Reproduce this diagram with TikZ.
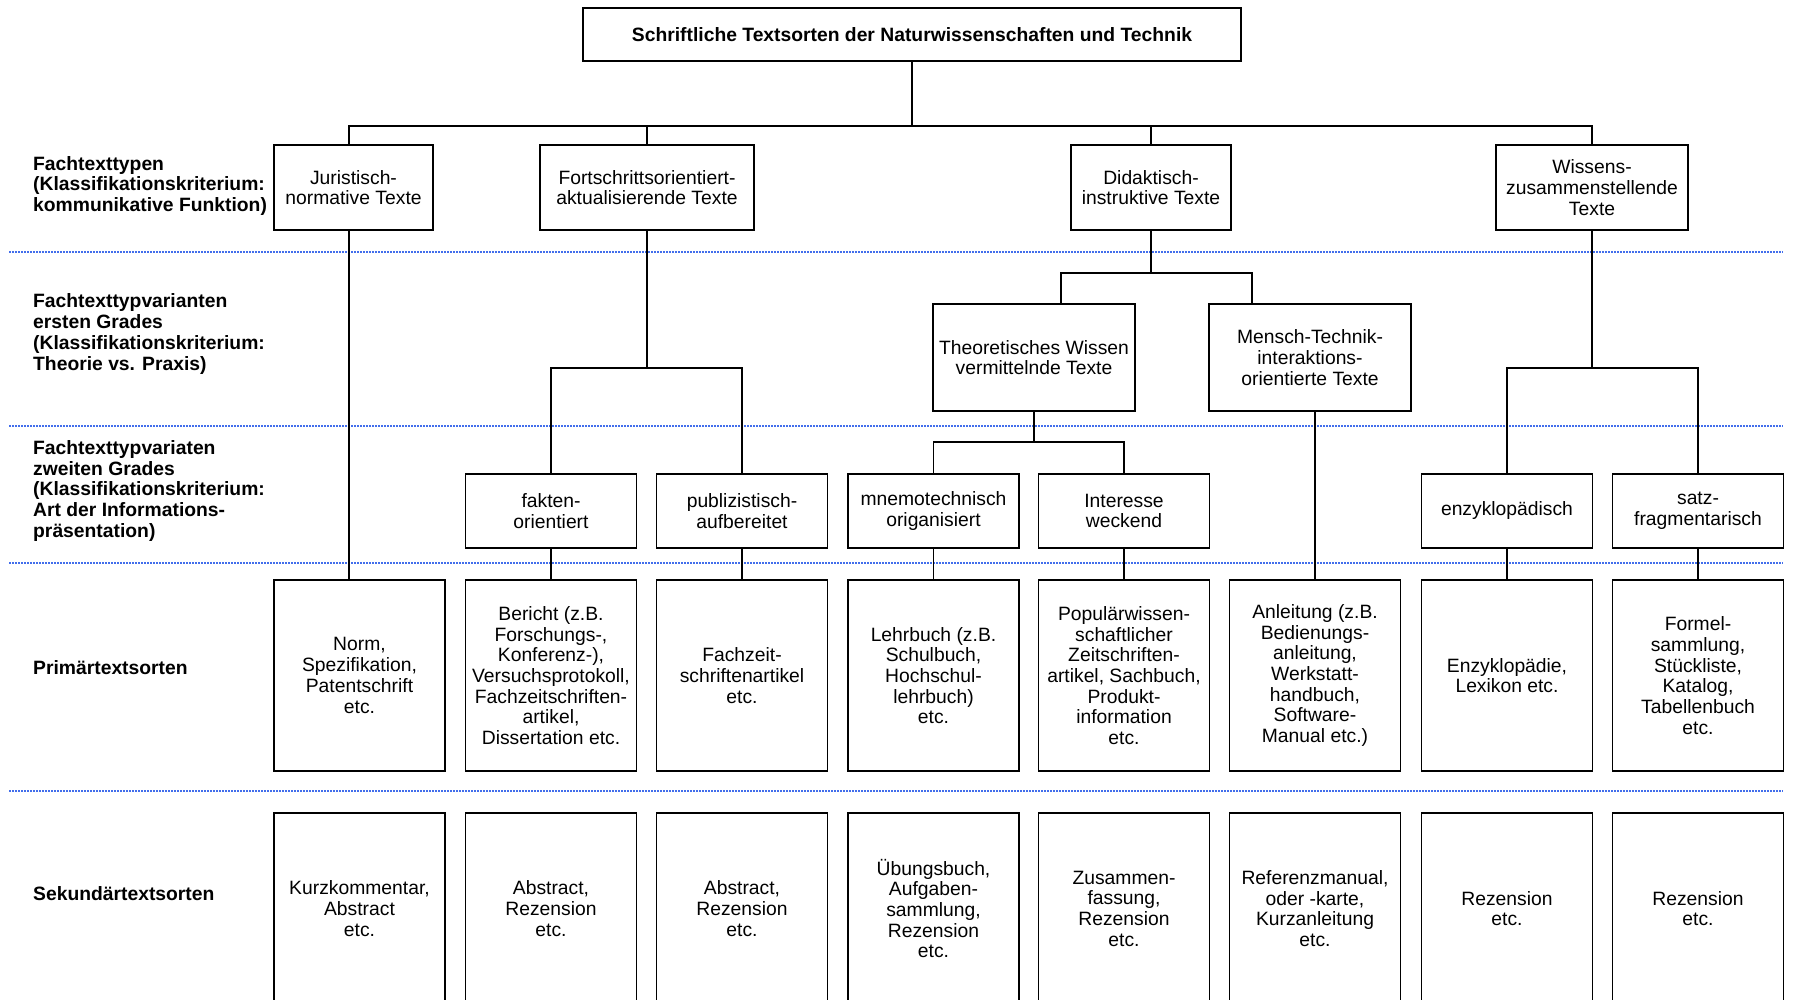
\documentclass[tikz,border=0pt]{standalone}
\usepackage{fontspec}
\setmainfont{Liberation Sans}
\usepackage{xcolor}
\usepackage{tikz}

\definecolor{rowblue}{RGB}{66,110,235}

\begin{document}
\begin{tikzpicture}[x=1pt, y=-1pt,
    box/.style={draw, line width=1.7pt, align=center, inner sep=1pt,
        font=\fontsize{19.3}{20.7}\selectfont},
    col/.style={box, minimum width=171pt},
    rowlabel/.style={anchor=west, align=left, inner sep=0pt,
        font=\fontsize{19.3}{20.7}\selectfont\bfseries},
    link/.style={line width=1.7pt},
    rowline/.style={rowblue, line width=1.5pt, dash pattern=on 2pt off 1pt}]

    % Page frame
    \clip (0,0) rectangle (1807,1000);
    \fill[white] (0,0) rectangle (1807,1000);

    % Row separators
    \draw[rowline] (9,252) -- (1783,252);
    \draw[rowline] (9,426) -- (1783,426);
    \draw[rowline] (9,563) -- (1783,563);
    \draw[rowline] (9,791) -- (1783,791);

    % Row labels
    \node[rowlabel] (lab1) at (33,186) {Fachtexttypen\\(Klassifikationskriterium:\\kommunikative Funktion)};
    \node[rowlabel] (lab2) at (33,334) {Fachtexttypvarianten\\ersten Grades\\(Klassifikationskriterium:\\Theorie vs. Praxis)};
    \node[rowlabel] (lab3) at (33,491) {Fachtexttypvariaten\\zweiten Grades\\(Klassifikationskriterium:\\Art der Informations-\\präsentation)};
    \node[rowlabel] (lab4) at (33,668) {Primärtextsorten};
    \node[rowlabel] (lab5) at (33,894) {Sekundärtextsorten};

    % Root
    \node[box, font=\fontsize{19.3}{20.7}\selectfont\bfseries, minimum width=658pt, minimum height=53pt] (root) at (912,34.5) {Schriftliche Textsorten der Naturwissenschaften und Technik};

    % Fachtexttypen
    \node[box, minimum width=159pt, minimum height=85pt] (jur) at (353.5,187.5) {Juristisch-\\normative Texte};
    \node[box, minimum width=214pt, minimum height=85pt] (fort) at (647,187.5) {Fortschrittsorientiert-\\aktualisierende Texte};
    \node[box, minimum width=160pt, minimum height=85pt] (did) at (1151,187.5) {Didaktisch-\\instruktive Texte};
    \node[box, minimum width=192pt, minimum height=85pt] (wis) at (1592,187.5) {Wissens-\\zusammenstellende\\Texte};

    % Varianten ersten Grades
    \node[box, minimum width=202pt, minimum height=107pt] (theo) at (1034,357.5) {Theoretisches Wissen\\vermittelnde Texte};
    \node[box, minimum width=202pt, minimum height=107pt] (mensch) at (1310,357.5) {Mensch-Technik-\\interaktions-\\orientierte Texte};

    % Varianten zweiten Grades
    \node[col, minimum height=74pt] (fakt) at (551,511) {fakten-\\orientiert};
    \node[col, minimum height=74pt] (publ) at (742,511) {publizistisch-\\aufbereitet};
    \node[col, minimum height=74pt] (mnem) at (933.5,511) {mnemotechnisch\\origanisiert};
    \node[col, minimum height=74pt] (inter) at (1124,511) {Interesse\\weckend};
    \node[col, minimum height=74pt] (enzy) at (1507,511) {enzyklopädisch};
    \node[col, minimum height=74pt] (satz) at (1698,511) {satz-\\fragmentarisch};

    % Primaertextsorten
    \node[col, minimum height=191pt] (p1) at (359.5,675.5) {Norm,\\Spezifikation,\\Patentschrift\\etc.};
    \node[col, minimum height=191pt] (p2) at (551,675.5) {Bericht (z.B.\\Forschungs-,\\Konferenz-),\\Versuchsprotokoll,\\Fachzeitschriften-\\artikel,\\Dissertation etc.};
    \node[col, minimum height=191pt] (p3) at (742,675.5) {Fachzeit-\\schriftenartikel\\etc.};
    \node[col, minimum height=191pt] (p4) at (933.5,675.5) {Lehrbuch (z.B.\\Schulbuch,\\Hochschul-\\lehrbuch)\\etc.};
    \node[col, minimum height=191pt] (p5) at (1124,675.5) {Populärwissen-\\schaftlicher\\Zeitschriften-\\artikel, Sachbuch,\\Produkt-\\information\\etc.};
    \node[col, minimum height=191pt] (p6) at (1315,675.5) {Anleitung (z.B.\\Bedienungs-\\anleitung,\\Werkstatt-\\handbuch,\\Software-\\Manual etc.)};
    \node[col, minimum height=191pt] (p7) at (1507,675.5) {Enzyklopädie,\\Lexikon etc.};
    \node[col, minimum height=191pt] (p8) at (1698,675.5) {Formel-\\sammlung,\\Stückliste,\\Katalog,\\Tabellenbuch\\etc.};

    % Sekundaertextsorten (run off the lower edge)
    \node[col, minimum height=191pt] (s1) at (359.5,908.5) {Kurzkommentar,\\Abstract\\etc.};
    \node[col, minimum height=191pt] (s2) at (551,908.5) {Abstract,\\Rezension\\etc.};
    \node[col, minimum height=191pt] (s3) at (742,908.5) {Abstract,\\Rezension\\etc.};
    \node[col, minimum height=191pt] (s4) at (933.5,908.5) {Übungsbuch,\\Aufgaben-\\sammlung,\\Rezension\\etc.};
    \node[col, minimum height=191pt] (s5) at (1124,908.5) {Zusammen-\\fassung,\\Rezension\\etc.};
    \node[col, minimum height=191pt] (s6) at (1315,908.5) {Referenzmanual,\\oder -karte,\\Kurzanleitung\\etc.};
    \node[col, minimum height=191pt] (s7) at (1507,908.5) {Rezension\\etc.};
    \node[col, minimum height=191pt] (s8) at (1698,908.5) {Rezension\\etc.};

    % Branch points
    \coordinate (rootbus) at (912,126);
    \coordinate (fortbus) at (647,368);
    \coordinate (didbus) at (1151,273);
    \coordinate (theobus) at (1034,442);
    \coordinate (wisbus) at (1592,368);

    % Root to Fachtexttypen
    \draw[link] (root.south) -- (rootbus);
    \draw[link] ([xshift=-4.5pt]jur.north) |- (rootbus) -| (wis.north);
    \draw[link] (fort.north) -- (fort.north |- rootbus);
    \draw[link] (did.north) -- (did.north |- rootbus);

    % Fortschrittsorientiert
    \draw[link] (fort.south) -- (fortbus);
    \draw[link] (fakt.north) |- (fortbus) -| (publ.north);

    % Didaktisch
    \draw[link] (did.south) -- (didbus);
    \draw[link] ([xshift=27pt]theo.north) |- (didbus) -| ([xshift=-58pt]mensch.north);
    \draw[link] (theo.south) -- (theobus);
    \draw[link] (mnem.north) |- (theobus) -| (inter.north);
    \draw[link] (mensch.south -| p6.north) -- (p6.north);

    % Wissenszusammenstellend
    \draw[link] (wis.south) -- (wisbus);
    \draw[link] (enzy.north) |- (wisbus) -| (satz.north);

    % Juristisch
    \draw[link] ([xshift=-4.5pt]jur.south) -- ([xshift=-4.5pt]jur.south |- p1.north);

    % Varianten to Primaertextsorten
    \draw[link] (fakt.south) -- (p2.north);
    \draw[link] (publ.south) -- (p3.north);
    \draw[link] (mnem.south) -- (p4.north);
    \draw[link] (inter.south) -- (p5.north);
    \draw[link] (enzy.south) -- (p7.north);
    \draw[link] (satz.south) -- (p8.north);

\end{tikzpicture}
\end{document}
